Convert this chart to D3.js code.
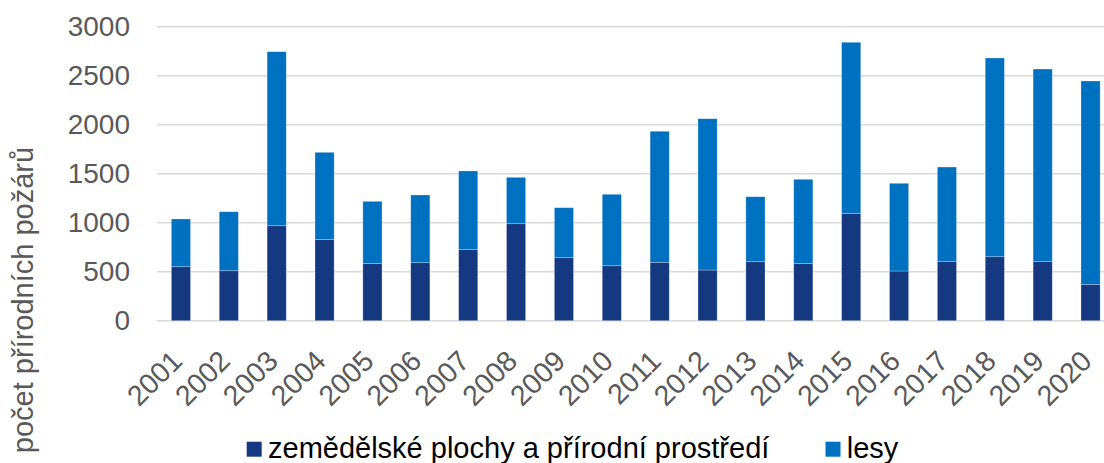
<!DOCTYPE html>
<html>
<head>
<meta charset="utf-8">
<script src="https://cdn.jsdelivr.net/npm/d3@7"></script>
<style>
  body { margin: 0; background: #fff; }
  text { font-family: "Liberation Sans", Arial, sans-serif; }
</style>
</head>
<body>
<div id="graph"></div>
<script>
const years = ["2001", "2002", "2003", "2004", "2005", "2006", "2007", "2008", "2009", "2010",
               "2011", "2012", "2013", "2014", "2015", "2016", "2017", "2018", "2019", "2020"];
const farmland = [551, 510, 969, 830, 585, 592, 725, 990, 643, 561,
                  596, 517, 602, 585, 1096, 507, 606, 653, 606, 371];
const forests = [487, 602, 1776, 888, 633, 691, 803, 473, 510, 729,
                 1337, 1544, 663, 858, 1745, 895, 962, 2028, 1962, 2075];
const yTicks = [0, 500, 1000, 1500, 2000, 2500, 3000];
const seriesNames = ["zemědělské plochy a přírodní prostředí", "lesy"];
const seriesColors = ["#143981", "#0070c0"];

/* GRAPH: STACKED BARS OF NATURAL FIRES */
const graph = {width: 1104, height: 463};
graph.margin = {top: 26.7, left: 157, bottom: 142.3, right: -10.5};
graph.innerWidth = graph.width - graph.margin.left - graph.margin.right;
graph.innerHeight = graph.height - graph.margin.top - graph.margin.bottom;

graph.svg = d3.select("#graph")
    .append("svg")
    .attr("width", graph.width)
    .attr("height", graph.height)
    .append("g")
    .attr("transform", `translate(${graph.margin.left}, ${graph.margin.top})`);

const rows = years.map((y, i) => ({year: y, farm: farmland[i], forest: forests[i]}));
const stacked = d3.stack().keys(["farm", "forest"])(rows);

const x = d3.scaleBand().domain(years).range([0, graph.innerWidth]).paddingInner(0.6).paddingOuter(0.3);
const y = d3.scaleLinear().domain([0, 3000]).range([graph.innerHeight, 0]);

// Gridlines
graph.svg.append("g")
    .selectAll("line")
    .data(yTicks)
    .join("line")
    .attr("x1", 0)
    .attr("x2", graph.innerWidth)
    .attr("y1", d => y(d))
    .attr("y2", d => y(d))
    .attr("stroke", "#d9d9d9")
    .attr("stroke-width", 1.5);

// Y axis labels
const yAxis = graph.svg.append("g")
    .attr("transform", "translate(-27, 0)")
    .call(d3.axisLeft(y).tickValues(yTicks).tickSize(0).tickPadding(0).tickFormat(d3.format("d")));
yAxis.select(".domain").remove();
yAxis.selectAll("text")
    .attr("font-size", 28)
    .attr("fill", "#595959")
    .attr("font-family", "Liberation Sans, Arial, sans-serif");

// Bars
graph.svg.append("g")
    .selectAll("g")
    .data(stacked)
    .join("g")
    .attr("fill", (d, i) => seriesColors[i])
    .selectAll("rect")
    .data(d => d)
    .join("rect")
    .attr("x", d => x(d.data.year))
    .attr("width", x.bandwidth())
    .attr("y", d => y(d[1]))
    .attr("height", d => y(d[0]) - y(d[1]))
    .attr("stroke", "#ffffff")
    .attr("stroke-opacity", 0.35)
    .attr("stroke-width", 0.75);

// X axis labels, rotated
graph.svg.append("g")
    .selectAll("text")
    .data(years)
    .join("text")
    .attr("transform", d => `translate(${x(d) + x.bandwidth() / 2 + 3}, ${graph.innerHeight + 42}) rotate(-45)`)
    .attr("text-anchor", "end")
    .attr("font-size", 28.5)
    .attr("fill", "#595959")
    .text(d => d);

// Y axis title
graph.svg.append("text")
    .attr("transform", `translate(${33 - graph.margin.left}, ${300 - graph.margin.top}) rotate(-90)`)
    .attr("text-anchor", "middle")
    .attr("font-size", 29)
    .attr("fill", "#595959")
    .text("počet přírodních požárů");

// Legend
const legendX = [246.7, 825.5];
const legend = graph.svg.append("g")
    .attr("transform", `translate(${-graph.margin.left}, ${-graph.margin.top})`);
legend.selectAll("rect")
    .data(seriesNames)
    .join("rect")
    .attr("x", (d, i) => legendX[i])
    .attr("y", 441.7)
    .attr("width", 15)
    .attr("height", 15)
    .attr("fill", (d, i) => seriesColors[i]);
legend.selectAll("text")
    .data(seriesNames)
    .join("text")
    .attr("x", (d, i) => legendX[i] + 21.3)
    .attr("y", 457.5)
    .attr("font-size", 29)
    .attr("fill", "#000000")
    .text(d => d);
</script>
</body>
</html>
